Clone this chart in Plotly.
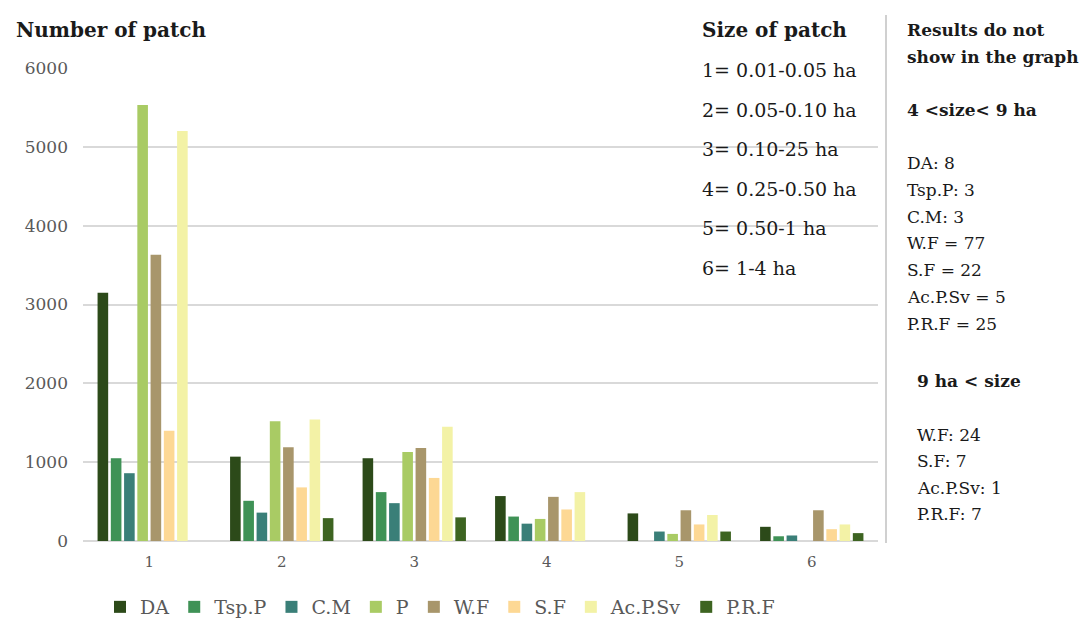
import plotly.graph_objects as go

# Patch-size classes and patch counts per land-cover type
size_classes = ["1", "2", "3", "4", "5", "6"]
series_names = ["DA", "Tsp.P", "C.M", "P", "W.F", "S.F", "Ac.P.Sv", "P.R.F"]

da = [3150, 1070, 1050, 570, 350, 180]
tsp_p = [1050, 510, 620, 310, 0, 60]
c_m = [860, 360, 480, 220, 120, 70]
p = [5530, 1520, 1130, 280, 90, 0]
w_f = [3630, 1190, 1180, 560, 390, 390]
s_f = [1400, 680, 800, 400, 210, 150]
ac_p_sv = [5200, 1540, 1450, 620, 330, 210]
p_r_f = [0, 290, 300, 0, 120, 100]

series_values = [da, tsp_p, c_m, p, w_f, s_f, ac_p_sv, p_r_f]
series_colors = ["#2c4a19", "#3f9256", "#3a7f78", "#a9cb64",
                 "#a8966b", "#fdd894", "#f3f2a6", "#3d6421"]

y_ticks = [0, 1000, 2000, 3000, 4000, 5000, 6000]

size_legend_title = "Size of patch"
size_legend_lines = ["1= 0.01-0.05 ha", "2= 0.05-0.10 ha", "3= 0.10-25 ha",
                     "4= 0.25-0.50 ha", "5= 0.50-1 ha", "6= 1-4 ha"]
extra_title = ["Results do not", "show in the graph"]
mid_heading = "4 <size< 9 ha"
mid_lines = ["DA: 8", "Tsp.P: 3", "C.M: 3", "W.F = 77", "S.F = 22",
             "Ac.P.Sv = 5", "P.R.F = 25"]
large_heading = "9 ha < size"
large_lines = ["W.F: 24", "S.F: 7", "Ac.P.Sv: 1", "P.R.F: 7"]

W, H = 1082, 624
ML, MR, MT, MB = 83, 204, 68, 83
PW, PH = W - ML - MR, H - MT - MB

SERIF = "DejaVu Serif"
TXT = "#1a1a1a"


def px(x):
    return (x - ML) / PW


def py(y):
    return (H - MB - y) / PH


fig = go.Figure()
for name, vals, col in zip(series_names, series_values, series_colors):
    fig.add_trace(go.Bar(name=name, x=size_classes, y=vals,
                         marker=dict(color=col, line=dict(width=0))))

annotations = []


def label(text, x, y, size, bold=False):
    annotations.append(dict(
        text=f"<b>{text}</b>" if bold else text,
        x=px(x), y=py(y), xref="paper", yref="paper",
        xanchor="left", yanchor="middle", showarrow=False,
        font=dict(family=SERIF, size=size, color=TXT)))


label("Number of patch", 14, 30, 20, bold=True)
label(size_legend_title, 700, 30, 20, bold=True)
for i, t in enumerate(size_legend_lines):
    label(t, 700, 70 + i * 39.6, 19)

label(extra_title[0], 905, 30, 17, bold=True)
label(extra_title[1], 905, 57, 17, bold=True)
label(mid_heading, 905, 110, 17, bold=True)
for i, t in enumerate(mid_lines):
    label(t, 905, 163 + i * 26.8, 17)
label(large_heading, 915, 381, 17, bold=True)
for i, t in enumerate(large_lines):
    label(t, 915, 435 + i * 26.4, 17)

fig.add_shape(type="line", xref="paper", yref="paper",
              x0=px(886), x1=px(886), y0=py(15), y1=py(543),
              line=dict(color="#d0d0d0", width=2))

fig.update_layout(
    width=W, height=H,
    margin=dict(l=ML, r=MR, t=MT, b=MB, autoexpand=False),
    paper_bgcolor="white", plot_bgcolor="white",
    barmode="group", bargap=0.2, bargroupgap=0.2,
    font=dict(family=SERIF, color="#595959"),
    annotations=annotations,
    showlegend=True,
    legend=dict(orientation="h", x=100 / W, y=(H - 588) / H,
                xref="container", yref="container",
                xanchor="left", yanchor="top",
                font=dict(family=SERIF, size=19, color="#595959"),
                itemclick=False, traceorder="normal"),
    xaxis=dict(type="category", showgrid=False, ticks="",
               tickfont=dict(family=SERIF, size=15, color="#595959"),
               ticklabelstandoff=10, showline=False, zeroline=False),
    yaxis=dict(range=[0, 6000], tickvals=y_ticks, showgrid=True,
               gridcolor="#d9d9d9", gridwidth=2, zeroline=True,
               zerolinecolor="#d9d9d9", zerolinewidth=2, showline=False,
               tickfont=dict(family=SERIF, size=17, color="#595959"),
               ticklabelstandoff=14, ticks=""),
)

fig.write_html("out.html")
